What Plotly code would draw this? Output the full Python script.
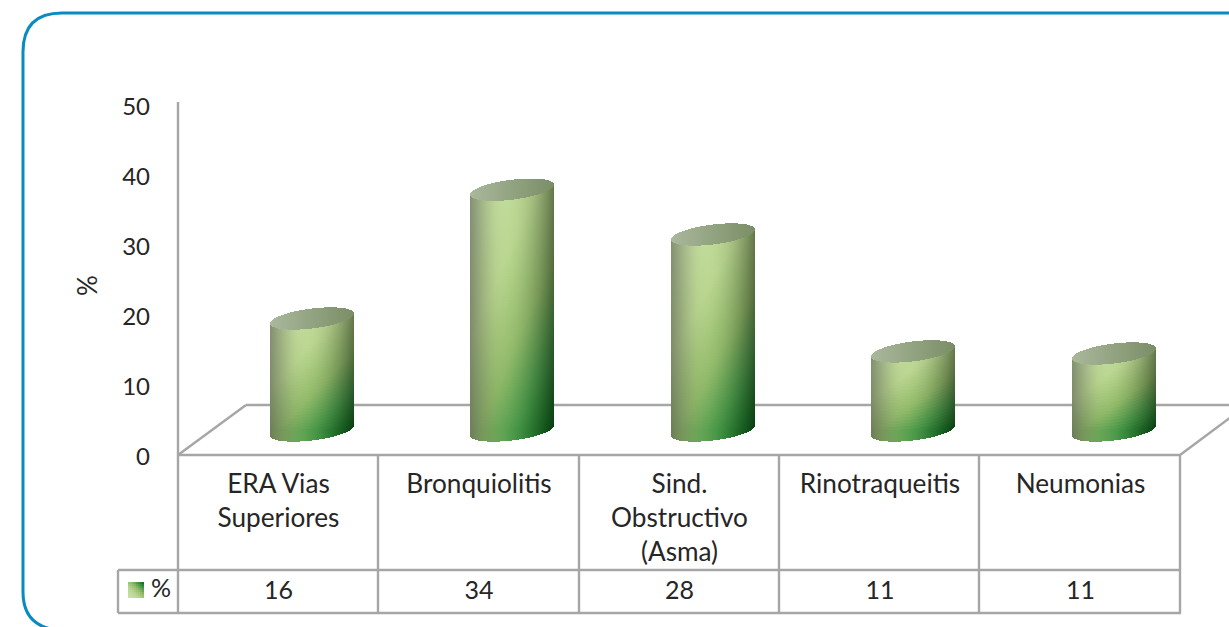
import math
import plotly.graph_objects as go

CATEGORIES = ["ERA Vias<br>Superiores", "Bronquiolitis", "Sind.<br>Obstructivo<br>(Asma)", "Rinotraqueitis", "Neumonias"]
TABLE_VALUES = [16, 34, 28, 11, 11]
BAR_VALUES = [16, 34.4, 28, 11.3, 11]
Y_TICKS = [0, 10, 20, 30, 40, 50]
SERIES = "%"

W, H = 1229, 627
PX_CAT, PX_VAL = 200.5, 7.0
X0_PX, Y0_PX = 278.5, 455.0
FONT = "Lato"
TXT = "#262626"
LINE = "#a6a6a6"


def xd(px):
    return (px - X0_PX) / PX_CAT


def yd(px):
    return (Y0_PX - px) / PX_VAL


def lerp(a, b, t):
    return a + (b - a) * t


RAMP = [(0.0, (202, 226, 168)), (0.35, (186, 214, 144)), (0.6, (146, 186, 106)),
        (0.8, (72, 152, 72)), (1.0, (10, 106, 26))]


def ramp(d):
    d = max(0, min(1, d))
    for (t0, c0), (t1, c1) in zip(RAMP, RAMP[1:]):
        if d <= t1:
            t = (d - t0) / (t1 - t0)
            return [lerp(a, b, t) for a, b in zip(c0, c1)]
    return list(RAMP[-1][1])


def hexc(c):
    return "rgb(%d,%d,%d)" % tuple(int(round(v)) for v in c)


def body_color(u, v):
    d = 0.56 * v + 0.44 * (u + 1) / 2
    c = ramp(d)
    k = ((u + 0.12) / (1.12 if u > -0.12 else 0.88)) ** 2
    s = 1 - (0.42 if u > -0.12 else 0.34) * k
    c = [x * s for x in c]
    if u < -0.4:  # greyish tint at left rim
        t = (-0.4 - u) / 0.6 * 0.25
        c = [lerp(x, 130, t) for x in c]
    return hexc(c)


def cap_color(u):
    t = (u + 1) / 2
    return hexc([lerp(170, 122, t), lerp(184, 142, t), lerp(156, 102, t)])


A_PX, B_PX, S_PX = 42.0, 10.0, 5.0
DEPTH_PX = 33.2
BASE_PX = Y0_PX - 24.5
SLICE = 1.0 / PX_CAT
STEP_PX = 3

bx, bbase, bh, bc = [], [], [], []
cx_, cbase, ch, cc = [], [], [], []
for i, val in enumerate(BAR_VALUES):
    center_px = X0_PX + DEPTH_PX + i * PX_CAT
    left_px = round(center_px - A_PX)
    n = int(2 * A_PX)
    height_px = val * PX_VAL
    top_px = BASE_PX - height_px
    for k in range(n):
        u = (k + 0.5) / n * 2 - 1
        root = math.sqrt(1 - u * u)
        x = xd(left_px + k + 0.5)
        # pixel-snapped outline of the cylinder in this column
        low_px = round(BASE_PX - S_PX * u + B_PX * root)
        hi_px = round(top_px - S_PX * u + B_PX * root)
        cap_px = round(top_px - S_PX * u - B_PX * root)
        if hi_px > cap_px:
            cx_.append(x); cbase.append(yd(hi_px)); ch.append((hi_px - cap_px) / PX_VAL); cc.append(cap_color(u))
        p = low_px
        while p > hi_px:
            p2 = max(hi_px, p - STEP_PX)
            v = 1 - (BASE_PX - (p + p2) / 2) / height_px
            bx.append(x); bbase.append(yd(p)); bh.append((p - p2) / PX_VAL)
            bc.append(body_color(u, max(0, min(1, v))))
            p = p2

# legend swatch
sx, sb, sh, sc = [], [], [], []
for a in range(8):
    for b in range(8):
        sx.append(xd(129 + 2 * a)); sb.append(yd(598 - 2 * b)); sh.append(2 / PX_VAL)
        sc.append(hexc(ramp((a + b) / 14 * 0.92 + 0.05)))

fig = go.Figure()
fig.add_trace(go.Bar(x=bx, y=bh, base=bbase, width=SLICE, marker=dict(color=bc, line=dict(width=0)),
                     hoverinfo="skip", showlegend=False, name=SERIES))
fig.add_trace(go.Bar(x=cx_, y=ch, base=cbase, width=SLICE, marker=dict(color=cc, line=dict(width=0)),
                     hoverinfo="skip", showlegend=False))
fig.add_trace(go.Bar(x=sx, y=sh, base=sb, width=2 / PX_CAT, marker=dict(color=sc, line=dict(width=0)),
                     hoverinfo="skip", showlegend=False))

# data-table text
fig.add_trace(go.Scatter(x=list(range(len(TABLE_VALUES))), y=[yd(593)] * len(TABLE_VALUES), mode="text",
                         text=[str(v) for v in TABLE_VALUES], textposition="middle center",
                         textfont=dict(family=FONT, size=25, color=TXT),
                         hoverinfo="skip", showlegend=False))
fig.add_trace(go.Scatter(x=[xd(161)], y=[yd(591)], mode="text", text=[SERIES], textposition="middle center",
                         textfont=dict(family=FONT, size=25, color=TXT), hoverinfo="skip", showlegend=False))

shapes = []


def seg(x1, y1, x2, y2):
    shapes.append(dict(type="line", xref="x", yref="y", x0=xd(x1), y0=yd(y1), x1=xd(x2), y1=yd(y2),
                       line=dict(color=LINE, width=2.4), layer="below"))


seg(178, 102, 178, 613)
seg(178, 455, 1180, 455)
seg(178, 455, 246, 405)
seg(246, 405, 1229, 405)
seg(1180, 455, 1235, 414)
for px in (378, 579, 779, 979, 1180):
    seg(px, 455, px, 613)
seg(118, 570, 1181, 570)
seg(118, 613, 1181, 613)
seg(118, 570, 118, 613)


def pp(x, y):
    return "%.5f,%.5f" % (x / W, 1 - y / H)


frame = ("M " + pp(1240, 13) + " L " + pp(62, 13) + " Q " + pp(23, 13) + " " + pp(23, 52)
         + " L " + pp(23, 592) + " Q " + pp(23, 626) + " " + pp(57, 630))
shapes.append(dict(type="path", xref="paper", yref="paper", path=frame,
                   line=dict(color="#0a8bc0", width=3), layer="below"))

fig.update_layout(
    width=W, height=H, autosize=False,
    margin=dict(l=0, r=0, t=0, b=0, pad=0),
    paper_bgcolor="white", plot_bgcolor="rgba(0,0,0,0)",
    barmode="overlay", shapes=shapes,
    font=dict(family=FONT, size=25, color=TXT),
    annotations=[dict(text=SERIES, x=87 / W, y=1 - 286 / H, xref="paper", yref="paper", showarrow=False,
                      xanchor="center", yanchor="middle",
                      textangle=-90, font=dict(family=FONT, size=26, color=TXT))],
    xaxis=dict(range=[xd(0), xd(W)], showgrid=False, zeroline=False, showline=False,
               anchor="free", position=1 - Y0_PX / H,
               tickmode="array", tickvals=list(range(len(CATEGORIES))), ticktext=CATEGORIES,
               tickangle=0, ticks="", ticklabelstandoff=11,
               tickfont=dict(family=FONT, size=26.2, color=TXT)),
    yaxis=dict(range=[yd(H), yd(0)], showgrid=False, zeroline=False, showline=False,
               anchor="free", position=178 / W,
               tickmode="array", tickvals=Y_TICKS, ticks="", ticklabelstandoff=28, ticklabelshift=2,
               tickfont=dict(family=FONT, size=24, color=TXT)),
)
fig.write_html("out.html", config=dict(displayModeBar=False, responsive=False),
               post_script="document.body.style.margin='0';document.body.style.overflow='hidden';")
